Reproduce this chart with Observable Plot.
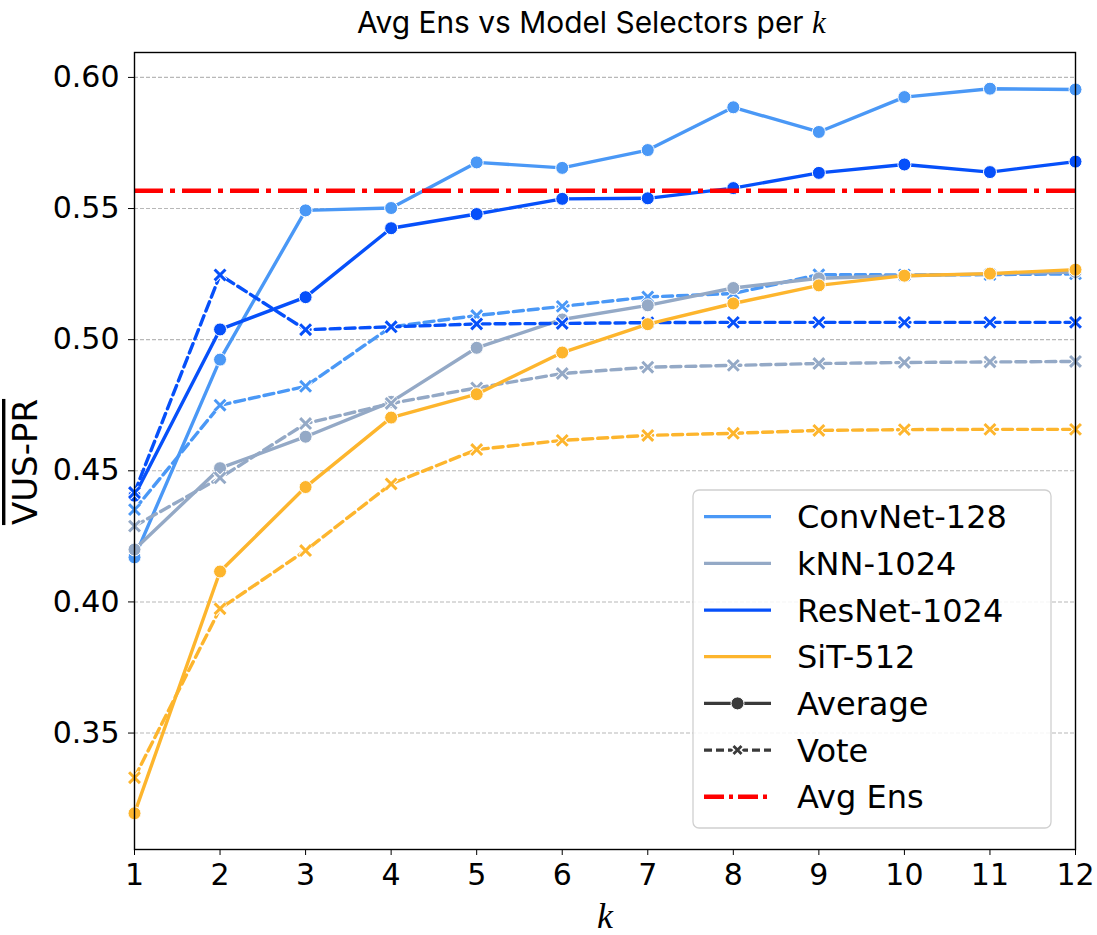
<!DOCTYPE html>
<html><head><meta charset="utf-8">
<script src="https://cdn.jsdelivr.net/npm/d3@7"></script>
<script src="https://cdn.jsdelivr.net/npm/@observablehq/plot@0.6"></script>
<style>
body{margin:0;background:#fff;}
#chart{position:relative;width:1097px;height:935px;}
</style>
</head><body><div id="chart"></div>
<script>
const ks = [1,2,3,4,5,6,7,8,9,10,11,12];
const models = ["ConvNet-128","kNN-1024","ResNet-1024","SiT-512"];
const modelColors = ["#4a98f6","#94a9c6","#0650fa","#fdb52d"];
const yTicks = [0.35,0.40,0.45,0.50,0.55,0.60];

const convnetAverage = [0.417,0.4924,0.5493,0.5502,0.5676,0.5655,0.5723,0.5886,0.5792,0.5925,0.5957,0.5954];
const convnetVote    = [0.4352,0.4750,0.4822,0.5049,0.5092,0.5127,0.5163,0.5176,0.5248,0.5247,0.5248,0.5251];
const knnAverage     = [0.4200,0.4510,0.4630,0.4763,0.4969,0.5077,0.5131,0.5197,0.5234,0.5244,0.5251,0.5258];
const knnVote        = [0.4289,0.4473,0.4680,0.4757,0.4816,0.4871,0.4895,0.4902,0.4909,0.4913,0.4915,0.4917];
const resnetAverage  = [0.4405,0.5039,0.5162,0.5425,0.5479,0.5537,0.5539,0.5578,0.5636,0.5668,0.5639,0.5679];
const resnetVote     = [0.4417,0.5247,0.5038,0.5049,0.5060,0.5062,0.5065,0.5066,0.5066,0.5066,0.5066,0.5066];
const sitAverage     = [0.3194,0.4116,0.4438,0.4703,0.4792,0.4951,0.5059,0.5138,0.5207,0.5244,0.5252,0.5267];
const sitVote        = [0.3330,0.3974,0.4196,0.4450,0.4581,0.4616,0.4635,0.4643,0.4654,0.4657,0.4658,0.4658];
const avgEns = 0.5568;

const averages = [convnetAverage, knnAverage, resnetAverage, sitAverage];
const votes = [convnetVote, knnVote, resnetVote, sitVote];

function rows(model, vals){ return ks.map((k,i)=>({k, v: vals[i], model})); }

const marks = [];
marks.push(Plot.ruleY(yTicks, {stroke:"#b8b8b8", strokeWidth:1.1, strokeDasharray:"4,2"}));
models.forEach((m,i)=>{
  const a = rows(m, averages[i]);
  const vt = rows(m, votes[i]);
  marks.push(Plot.line(a, {x:"k", y:"v", stroke:"model", strokeWidth:3.4}));
  marks.push(Plot.dot(a, {x:"k", y:"v", fill:"model", stroke:"white", strokeWidth:1, r:6.5}));
  marks.push(Plot.line(vt, {x:"k", y:"v", stroke:"model", strokeWidth:3.4, strokeDasharray:"10,5"}));
  marks.push(Plot.dot(vt, {x:"k", y:"v", symbol:"times", stroke:"white", strokeWidth:5, r:5}));
  marks.push(Plot.dot(vt, {x:"k", y:"v", symbol:"times", stroke:"model", strokeWidth:3, r:5}));
});
marks.push(Plot.ruleY([avgEns], {stroke:"#ff0000", strokeWidth:4.5, strokeDasharray:"29,7,5,7"}));
marks.push(Plot.frame({stroke:"black", strokeWidth:1.4}));

const plot = Plot.plot({
  width:1097, height:935,
  marginTop:52, marginBottom:86, marginLeft:134, marginRight:22,
  style:{fontFamily:"DejaVu Sans", fontSize:"30px", color:"black", background:"white", overflow:"visible"},
  x:{domain:[1,12], ticks:ks, tickFormat:d=>String(d), tickSize:6, tickPadding:8, label:null},
  y:{domain:[0.3056,0.6095], ticks:yTicks, tickFormat:d3.format(".2f"), tickSize:6, tickPadding:9, label:null},
  color:{domain:models, range:modelColors},
  marks
});
document.getElementById("chart").appendChild(plot);

const svg = d3.select(plot);
// Title
const title = svg.append("text").attr("x",357).attr("y",33).attr("text-anchor","start")
  .style("font-family","Inter,'Liberation Sans',sans-serif")
  .style("font-size","23px").attr("fill","black");
const t1 = title.append("tspan").text("Avg Ens vs Model Selectors per ");
title.append("tspan").text("k").style("font-family","'Liberation Serif',serif").style("font-style","italic").style("font-size","31px");
// fit main title text to reference width
const w = t1.node().getComputedTextLength();
title.style("font-size", (23*455/w).toFixed(2)+"px");
// x label
svg.append("text").attr("x",605).attr("y",928).attr("text-anchor","middle")
  .style("font-family","'Liberation Serif',serif").style("font-style","italic").style("font-size","36px").attr("fill","black").text("k");
// y label
svg.append("text").attr("transform","translate(37,462) rotate(-90)").attr("text-anchor","middle")
  .style("font-family","DejaVu Sans").style("font-size","34px").style("text-decoration","overline").attr("fill","black").text("VUS-PR");

// Legend
const lg = svg.append("g").attr("text-anchor","start");
lg.append("rect").attr("x",693).attr("y",490).attr("width",358).attr("height",338).attr("rx",6)
  .attr("fill","white").attr("fill-opacity",0.85).attr("stroke","#d0d0d0").attr("stroke-width",1.3);
const legendItems = [
  ...models.map((m,i)=>({label:m, color:modelColors[i], dash:null, marker:null, w:3.2})),
  {label:"Average", color:"#3a3a3a", dash:null, marker:"dot", w:3.2},
  {label:"Vote", color:"#3a3a3a", dash:"8,4", marker:"x", w:3.2},
  {label:"Avg Ens", color:"#ff0000", dash:"20,5,4,5", marker:null, w:4.5}
];
legendItems.forEach((it,i)=>{
  const y = 516.7 + i*46.67;
  lg.append("line").attr("x1",704).attr("x2",771).attr("y1",y).attr("y2",y)
    .attr("stroke",it.color).attr("stroke-width",it.w).attr("stroke-dasharray",it.dash);
  if(it.marker==="dot") lg.append("circle").attr("cx",737.5).attr("cy",y).attr("r",6.5).attr("fill",it.color).attr("stroke","white").attr("stroke-width",1);
  if(it.marker==="x"){
    lg.append("path").attr("d",`M${737.5-4.5},${y-4.5}L${737.5+4.5},${y+4.5}M${737.5-4.5},${y+4.5}L${737.5+4.5},${y-4.5}`)
      .attr("stroke","white").attr("stroke-width",6);
    lg.append("path").attr("d",`M${737.5-4},${y-4}L${737.5+4},${y+4}M${737.5-4},${y+4}L${737.5+4},${y-4}`)
      .attr("stroke",it.color).attr("stroke-width",2.8);
  }
  lg.append("text").attr("x",797).attr("y",y).attr("dy","0.36em").attr("text-anchor","start")
    .style("font-family","DejaVu Sans").style("font-size","32px").attr("fill","black").text(it.label);
});
</script>
</body></html>
